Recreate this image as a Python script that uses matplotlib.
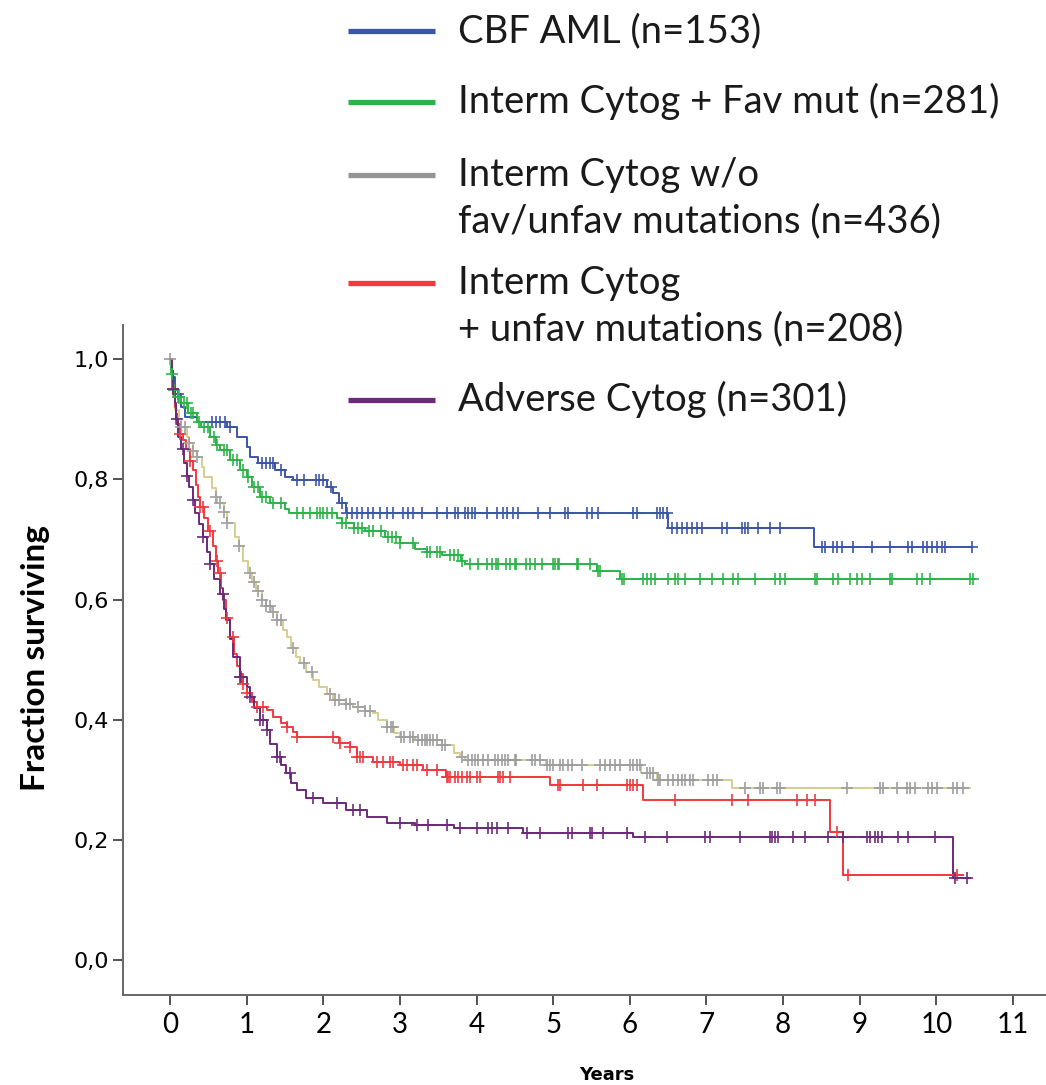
import numpy as np
import matplotlib
matplotlib.use("Agg")
import matplotlib.pyplot as plt
from matplotlib.lines import Line2D

# Kaplan-Meier curves: step times (years) and survival after each step
cbf_t = [0.02, 0.06, 0.15, 0.2, 0.35, 0.75, 0.87, 1.0, 1.05, 1.15, 1.37, 1.5, 1.6, 2.05, 2.13, 2.2, 2.3, 6.5, 8.4]
cbf_s = [0.97, 0.943, 0.92, 0.904, 0.895, 0.887, 0.87, 0.854, 0.837, 0.827, 0.815, 0.804, 0.799, 0.787, 0.777, 0.76, 0.744, 0.72, 0.687]
cbf_end = 10.46
cbf_cens = [0.1, 0.55, 0.6, 0.65, 0.72, 0.78, 1.2, 1.25, 1.3, 1.34, 1.45, 1.66, 1.75, 1.9, 1.95, 2.0, 2.1,
            2.24, 2.31, 2.37, 2.44, 2.51, 2.58, 2.65, 2.74, 2.83, 2.91,
            3.04, 3.10, 3.17, 3.29, 3.48, 3.61, 3.72, 3.76, 3.85, 3.89, 3.94, 3.98, 4.14, 4.27, 4.35, 4.40,
            4.48, 4.54, 4.80, 4.96, 5.15, 5.19, 5.44, 5.51, 5.58, 6.04, 6.09, 6.35, 6.39, 6.43, 6.48,
            6.55, 6.62, 6.68, 6.75, 6.81, 6.88, 6.94, 7.20, 7.27, 7.46, 7.50, 7.54, 7.67, 7.83, 7.96,
            8.51, 8.55, 8.65, 8.70, 8.77, 8.91, 9.16, 9.39, 9.63, 9.68, 9.82, 9.88, 9.94, 10.01, 10.07, 10.11, 10.46]

fav_t = [0.01, 0.03, 0.1, 0.15, 0.23, 0.35, 0.4, 0.52, 0.6, 0.65, 0.78, 0.92, 1.0, 1.07, 1.17, 1.3, 1.5, 1.55,
         2.18, 2.25, 2.4, 2.55, 2.8, 3.0, 3.2, 3.35, 3.55, 3.8, 3.85, 5.57, 5.87]
fav_s = [0.975, 0.948, 0.937, 0.927, 0.91, 0.895, 0.887, 0.87, 0.858, 0.849, 0.832, 0.815, 0.804, 0.787, 0.77,
         0.76, 0.75, 0.744, 0.735, 0.727, 0.72, 0.715, 0.704, 0.694, 0.685, 0.679, 0.674, 0.665, 0.66, 0.647, 0.635]
fav_end = 10.5
fav_cens = [0.02, 0.05, 0.1, 0.12, 0.18, 0.22, 0.28, 0.3, 0.38, 0.45, 0.5, 0.58, 0.62, 0.7, 0.75, 0.82, 0.88,
            0.95, 1.02, 1.1, 1.15, 1.2, 1.25, 1.35, 1.45, 1.66, 1.74, 1.83, 1.92, 1.96, 2.0, 2.05, 2.11,
            2.25, 2.3, 2.4, 2.45, 2.5, 2.6, 2.65, 2.75, 2.85, 2.9, 2.95,
            3.0, 3.17, 3.35, 3.39, 3.48, 3.52, 3.65, 3.70, 3.76, 3.81, 3.91, 4.02, 4.13, 4.20, 4.26, 4.28,
            4.39, 4.44, 4.50, 4.52, 4.65, 4.70, 4.76, 4.85, 5.0, 5.02, 5.06, 5.07, 5.31, 5.33, 5.48, 5.59, 5.61,
            5.90, 5.92, 6.17, 6.22, 6.28, 6.33, 6.50, 6.59, 6.63, 6.72, 6.92, 7.07, 7.22, 7.35, 7.41, 7.63,
            7.89, 7.96, 8.02, 8.42, 8.44, 8.65, 8.72, 8.87, 8.96, 9.03, 9.13, 9.39, 9.42, 9.75, 9.81, 9.92,
            10.44, 10.48]

neu_t = [0.02, 0.04, 0.06, 0.12, 0.15, 0.22, 0.25, 0.3, 0.35, 0.42, 0.45, 0.55, 0.6, 0.62, 0.7, 0.75, 0.85,
         0.9, 0.95, 1.02, 1.07, 1.12, 1.2, 1.25, 1.32, 1.4, 1.47, 1.53, 1.58, 1.65, 1.7, 1.78, 1.87, 1.95,
         2.05, 2.13, 2.3, 2.39, 2.55, 2.65, 2.72, 2.83, 2.92, 3.0, 3.2, 3.55, 3.7, 3.78, 3.85, 4.9, 6.15,
         6.35, 7.33]
neu_s = [0.97, 0.94, 0.915, 0.9, 0.887, 0.87, 0.86, 0.848, 0.837, 0.82, 0.804, 0.785, 0.77, 0.76, 0.745,
         0.727, 0.705, 0.69, 0.665, 0.645, 0.63, 0.615, 0.6, 0.59, 0.58, 0.566, 0.55, 0.537, 0.52, 0.505,
         0.494, 0.48, 0.466, 0.455, 0.443, 0.433, 0.427, 0.421, 0.415, 0.411, 0.4, 0.388, 0.378, 0.371,
         0.366, 0.358, 0.345, 0.338, 0.333, 0.324, 0.311, 0.30, 0.286]
neu_end = 10.44
neu_cens = [0.0, 0.15, 0.2, 0.25, 0.3, 0.35, 0.6, 0.65, 0.7, 0.75, 0.9, 1.05, 1.1, 1.15, 1.2, 1.25, 1.3,
            1.35, 1.4, 1.45, 1.6, 1.75, 1.85, 2.09, 2.15, 2.2, 2.3, 2.35, 2.45, 2.55, 2.61, 2.83, 2.88,
            2.91, 3.02, 3.05, 3.13, 3.17, 3.24, 3.29, 3.33, 3.35, 3.39, 3.43, 3.48, 3.55, 3.59,
            3.81, 3.89, 3.94, 3.98, 4.02, 4.08, 4.15, 4.24, 4.28, 4.33, 4.37, 4.41, 4.50, 4.52,
            4.72, 4.76, 4.83, 4.92, 4.96, 5.0, 5.09, 5.13, 5.19, 5.25, 5.38, 5.61, 5.68, 5.74, 5.81,
            5.87, 6.0, 6.04, 6.09, 6.13, 6.22, 6.26, 6.30, 6.37, 6.39, 6.50, 6.56, 6.63, 6.68, 6.72,
            6.79, 6.82, 7.02, 7.09, 7.14, 7.50, 7.70, 7.74, 7.92, 7.96, 8.83, 9.26, 9.30, 9.49, 9.62,
            9.66, 9.72, 9.89, 9.94, 10.01, 10.22, 10.27, 10.35]

unf_t = [0.02, 0.04, 0.06, 0.08, 0.13, 0.17, 0.21, 0.26, 0.3, 0.34, 0.37, 0.39, 0.45, 0.5, 0.56, 0.6, 0.63,
         0.66, 0.69, 0.73, 0.78, 0.83, 0.88, 0.91, 0.95, 1.0, 1.07, 1.13, 1.27, 1.34, 1.45, 1.53, 1.6, 1.66,
         2.2, 2.35, 2.44, 2.65, 3.0, 3.3, 3.6, 4.96, 6.17, 8.61, 8.78]
unf_s = [0.98, 0.95, 0.92, 0.893, 0.875, 0.865, 0.85, 0.83, 0.815, 0.79, 0.77, 0.754, 0.735, 0.715, 0.69,
         0.665, 0.645, 0.62, 0.6, 0.57, 0.537, 0.51, 0.49, 0.477, 0.46, 0.444, 0.43, 0.421, 0.416, 0.404,
         0.395, 0.388, 0.38, 0.371, 0.361, 0.354, 0.338, 0.329, 0.324, 0.316, 0.305, 0.291, 0.266, 0.213, 0.141]
unf_end = 10.35
unf_cens = [0.04, 0.13, 0.26, 0.39, 0.43, 0.52, 0.61, 0.65, 0.74, 0.82, 0.95, 1.0, 1.13, 1.21, 1.53, 1.66,
            2.13, 2.22, 2.35, 2.44, 2.48, 2.52, 2.70, 2.78, 2.87, 2.91, 3.04, 3.09, 3.17, 3.22, 3.35,
            3.48, 3.61, 3.63, 3.65, 3.72, 3.76, 3.81, 3.88, 3.91, 4.0, 4.04, 4.28, 4.31, 4.35, 4.44,
            5.06, 5.09, 5.39, 5.57, 5.96, 6.0, 6.04, 6.09, 6.59, 7.33, 7.54, 8.18, 8.31, 8.42, 8.70,
            8.85, 10.27]

adv_t = [0.02, 0.04, 0.06, 0.08, 0.1, 0.15, 0.18, 0.22, 0.25, 0.3, 0.32, 0.38, 0.43, 0.48, 0.52, 0.58, 0.65,
         0.7, 0.73, 0.78, 0.82, 0.91, 1.0, 1.04, 1.1, 1.17, 1.26, 1.3, 1.39, 1.45, 1.52, 1.58, 1.66, 1.78,
         2.0, 2.3, 2.57, 2.83, 3.2, 3.7, 4.6, 6.04, 10.22]
adv_s = [0.98, 0.95, 0.927, 0.9, 0.87, 0.85, 0.827, 0.805, 0.787, 0.765, 0.744, 0.725, 0.704, 0.68, 0.66,
         0.635, 0.61, 0.585, 0.566, 0.535, 0.504, 0.471, 0.455, 0.438, 0.42, 0.399, 0.383, 0.36, 0.338,
         0.325, 0.311, 0.295, 0.283, 0.27, 0.261, 0.25, 0.238, 0.228, 0.225, 0.22, 0.211, 0.205, 0.136]
adv_end = 10.44
adv_cens = [0.04, 0.09, 0.17, 0.22, 0.3, 0.43, 0.52, 0.69, 0.91, 0.93, 1.04, 1.17, 1.21, 1.27, 1.40, 1.44,
            1.57, 1.87, 2.18, 2.39, 2.48, 3.0, 3.22, 3.37, 3.61, 3.78, 4.0, 4.15, 4.20, 4.27, 4.41, 4.66,
            4.83, 5.19, 5.25, 5.48, 5.51, 5.65, 5.96, 6.20, 6.48, 6.98, 7.05, 7.44, 7.83, 7.86, 7.89,
            7.93, 8.13, 8.29, 8.59, 8.78, 9.09, 9.13, 9.20, 9.24, 9.29, 9.50, 9.63, 9.98, 10.24, 10.40]

labels = ["CBF AML (n=153)", "Interm Cytog + Fav mut (n=281)",
          "Interm Cytog w/o\nfav/unfav mutations (n=436)",
          "Interm Cytog\n+ unfav mutations (n=208)", "Adverse Cytog (n=301)"]
line_colors = ["#3b56a6", "#2db34a", "#d6cd92", "#ef3a3f", "#6c2a7a"]
mark_colors = ["#3b56a6", "#2db34a", "#9d9d9d", "#ef3a3f", "#6c2a7a"]
legend_colors = ["#3b56a6", "#2db34a", "#959595", "#ef3a3f", "#6c2a7a"]

groups = [(cbf_t, cbf_s, cbf_end, cbf_cens), (fav_t, fav_s, fav_end, fav_cens),
          (neu_t, neu_s, neu_end, neu_cens), (unf_t, unf_s, unf_end, unf_cens),
          (adv_t, adv_s, adv_end, adv_cens)]


def surv_at(times, levels, c):
    t = np.concatenate([[0.0], times])
    s = np.concatenate([[1.0], levels])
    idx = np.searchsorted(t, c, side="right") - 1
    return s[idx]


W, H = 1046, 1085
fig = plt.figure(figsize=(W / 100, H / 100), dpi=100)
ax = fig.add_axes([123 / W, 1 - 995 / H, (W - 123) / W, (995 - 325) / H])

for (t, s, end, cens), lc, mc in zip(groups, line_colors, mark_colors):
    xs = np.concatenate([[0.0], t, [end]])
    ys = np.concatenate([[1.0], s, [s[-1]]])
    ax.step(xs, ys, where="post", color=lc, lw=1.4, zorder=2)
    cens = np.array(cens)
    ax.plot(cens, surv_at(t, s, cens), ls="none", marker="+", ms=9, mew=1.4,
            color=mc, alpha=0.85, zorder=3)

ax.set_xlim(-0.613, 11.43)
ax.set_ylim(-0.058, 1.057)
ax.set_xticks(range(0, 12))
ax.set_yticks([0, 0.2, 0.4, 0.6, 0.8, 1.0])
ax.set_yticklabels(["0,0", "0,2", "0,4", "0,6", "0,8", "1,0"])
for sp in ["top", "right"]:
    ax.spines[sp].set_visible(False)
for sp in ["left", "bottom"]:
    ax.spines[sp].set_color("#666666")
    ax.spines[sp].set_linewidth(1.4)
ax.tick_params(axis="both", direction="out", length=7, width=1.3, color="#444444")
ax.tick_params(axis="x", pad=5, labelsize=20)
ax.tick_params(axis="y", pad=3, labelsize=16)
for lab in ax.get_xticklabels():
    lab.set_family("Lato")
for lab in ax.get_yticklabels():
    lab.set_family("DejaVu Sans")

fig.text(36 / W, 1 - 658 / H, "Fraction surviving", rotation=90, ha="center", va="center",
         fontsize=24, fontweight="bold", family="Lato")
fig.text(607 / W, 1 - 1075 / H, "Years", ha="center", va="center",
         fontsize=13, fontweight="bold", family="DejaVu Sans")

# legend drawn by hand above the curves, one text per line
leg_y = [31, 102, 175, 283, 400]
for lab, col, y in zip(labels, legend_colors, leg_y):
    fig.add_artist(Line2D([348 / W, 435 / W], [1 - y / H, 1 - y / H], color=col, lw=3.8,
                          solid_capstyle="butt"))
    for i, part in enumerate(lab.split("\n")):
        fig.text(458 / W, 1 - (y + 11 + 46 * i) / H, part, ha="left", va="baseline",
                 fontsize=27.5, family="Lato", color="#1a1a1a")

fig.savefig("out.png", dpi=100)
